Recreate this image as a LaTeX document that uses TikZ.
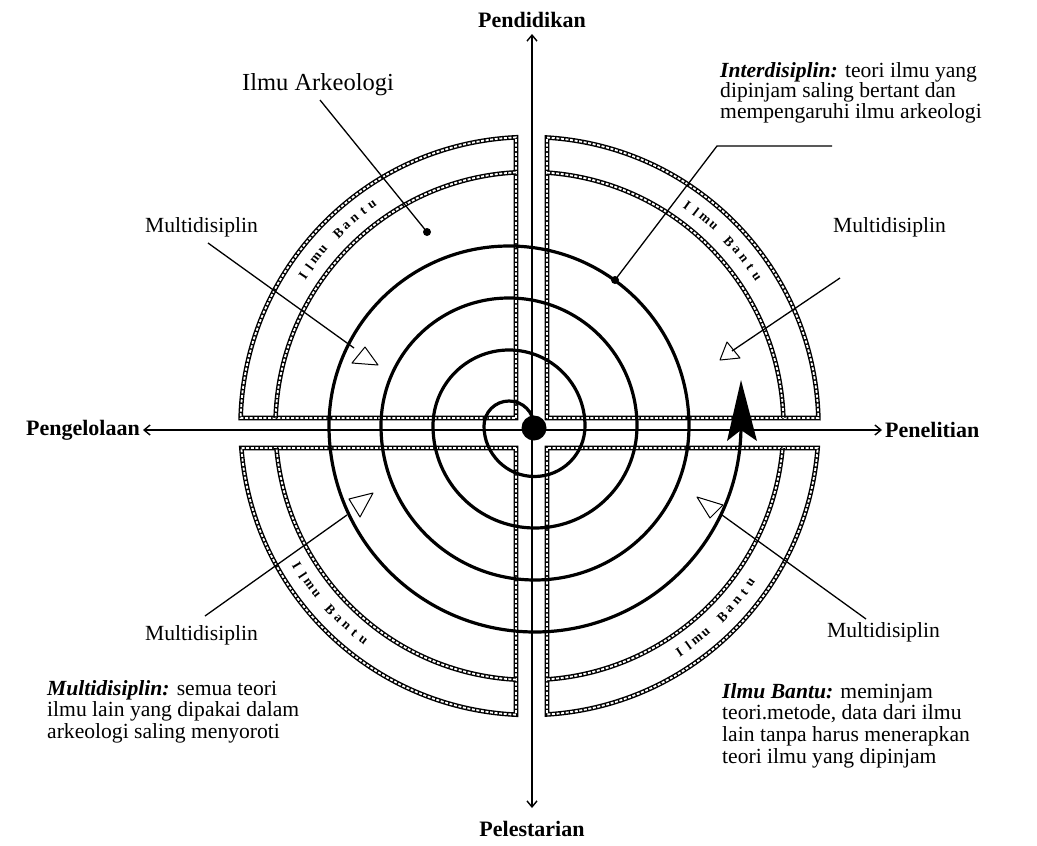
\documentclass[tikz,border=0pt]{standalone}
\usepackage{fontspec}
\setmainfont{Liberation Serif}
\usetikzlibrary{arrows.meta,calc}
\newcommand\bandpiece[1]{\draw[band] #1; \draw[bandin] #1;}
\begin{document}
\begin{tikzpicture}[x=1pt,y=1pt,
  >={Straight Barb[length=6pt,width=10pt,line width=1.4pt]},
  band/.style={line width=4.6pt,line join=miter},
  bandin/.style={line width=1.8pt,white,dash pattern=on 3pt off 1.6pt},
  spiral/.style={line width=3.2pt},
  axis/.style={line width=1.5pt},
  leader/.style={line width=1.3pt},
  lbl/.style={font=\fontsize{21.6}{22}\selectfont, inner sep=0pt},
  blk/.style={inner sep=0pt, align=left, anchor=north west},
  axl/.style={font=\bfseries\fontsize{22}{24}\selectfont, inner sep=0pt},
  bt/.style={font=\bfseries\fontsize{13.5}{13.5}\selectfont, inner sep=0pt},
  tri/.style={line width=1pt, line join=round},
  ptdot/.style={circle, fill, inner sep=0pt, minimum size=8pt}
]
\useasboundingbox (0,0) rectangle (1037,-846);
\coordinate (C) at (529.5,-426);

% ---- Ilmu Bantu ring: four quadrant pieces ----
\bandpiece{(516,-418) -- ([shift={(C)}]92.677:289) arc[start angle=92.677,end angle=178.414,radius=289] -- cycle}
\bandpiece{(547,-418) -- ([shift={(C)}]86.528:289) arc[start angle=86.528,end angle=1.586,radius=289] -- cycle}
\bandpiece{(516,-448) -- ([shift={(C)}]267.323:289) arc[start angle=267.323,end angle=184.366,radius=289] -- cycle}
\bandpiece{(547,-448) -- ([shift={(C)}]273.472:289) arc[start angle=273.472,end angle=355.634,radius=289] -- cycle}
\bandpiece{([shift={(C)}]93.047:254) arc[start angle=93.047,end angle=178.195,radius=254]}
\bandpiece{([shift={(C)}]86.05:254) arc[start angle=86.05,end angle=1.805,radius=254]}
\bandpiece{([shift={(C)}]266.953:254) arc[start angle=266.953,end angle=184.969,radius=254]}
\bandpiece{([shift={(C)}]273.95:254) arc[start angle=273.95,end angle=355.031,radius=254]}

% ---- Ilmu Bantu letters along the ring ----
\foreach \k/\c in {0/I,1/l,2/m,3/u,5/B,6/a,7/n,8/t,9/u}{
  \pgfmathsetmacro\a{146.5-2.35*\k}
  \node[bt,rotate=\a-90] (btl\k) at ([shift={(C)}]\a:271.5) {\c};
  \pgfmathsetmacro\b{54.5-2.35*\k}
  \node[bt,rotate=\b-90] (btr\k) at ([shift={(C)}]\b:271.5) {\c};
  \pgfmathsetmacro\d{211+2.35*\k}
  \node[bt,rotate=\d+90] (bbl\k) at ([shift={(C)}]\d:271.5) {\c};
  \pgfmathsetmacro\e{303.5+2.35*\k}
  \node[bt,rotate=\e+90] (bbr\k) at ([shift={(C)}]\e:271.5) {\c};
}

% ---- spiral ----
\draw[spiral] (534,-426)
  arc[start angle=0,end angle=180,radius=25]
  arc[start angle=180,end angle=360,radius=50.5]
  arc[start angle=0,end angle=180,radius=76]
  arc[start angle=180,end angle=360,radius=102]
  arc[start angle=0,end angle=180,radius=128]
  arc[start angle=180,end angle=360,radius=154]
  arc[start angle=0,end angle=180,radius=180]
  arc[start angle=180,end angle=360,radius=206] -- (741,-405);
\fill (741,-380) -- (727,-441) -- (741,-430) -- (757,-441) -- cycle;
\node[circle, fill, inner sep=0pt, minimum size=25pt] (dot) at (534,-428) {};

% ---- axes ----
\node[axl] (pend) at (532,-20) {Pendidikan};
\node[axl] (pel) at (532,-829) {Pelestarian};
\node[axl, anchor=east] (peng) at (140,-430) {Pengelolaan};
\node[axl, anchor=west] (pen) at (885,-430) {Penelitian};
\coordinate (atop) at (532,-34);
\coordinate (abot) at (532,-808);
\coordinate (alft) at (143,-430);
\coordinate (argt) at (882,-430);
\draw[axis,<->] (atop) -- (abot);
\draw[axis,<->] (alft) -- (argt);

% ---- Ilmu Arkeologi ----
\node[font=\fontsize{24.5}{26}\selectfont, inner sep=0pt] (ark) at (318,-85) {Ilmu Arkeologi};
\coordinate (ark1) at (320,-100);
\node[ptdot] (arkdot) at (427,-232) {};
\draw[leader] (ark1) -- (arkdot.center);

% ---- Interdisiplin ----
\node[blk, font=\fontsize{21.6}{19.5}\selectfont] (idesc) at (720,-62)
  {\textbf{\textit{Interdisiplin:}} teori ilmu yang\\dipinjam saling bertant dan\\mempengaruhi ilmu arkeologi};
\coordinate (id1) at (832,-146);
\coordinate (id2) at (717,-146);
\node[ptdot] (iddot) at (615,-280) {};
\draw[leader] (id1) -- (id2) -- (iddot.center);

% ---- Multidisiplin labels, leaders, triangles ----
\node[lbl] (mtl) at (201.5,-227) {Multidisiplin};
\coordinate (mtl1) at (208,-243);
\coordinate (mtl2) at (354,-348);
\draw[leader] (mtl1) -- (mtl2);
\draw[tri] (365,-347) -- (352,-363) -- (378,-365) -- cycle;

\node[lbl, anchor=west] (mtr) at (833,-227) {Multidisiplin};
\coordinate (mtr1) at (840,-278);
\coordinate (mtr2) at (732,-351);
\draw[leader] (mtr1) -- (mtr2);
\draw[tri] (727,-342) -- (720,-360) -- (740,-358) -- cycle;

\node[lbl] (mbl) at (201.5,-635) {Multidisiplin};
\coordinate (mbl1) at (205,-616);
\coordinate (mbl2) at (347,-515);
\draw[leader] (mbl1) -- (mbl2);
\draw[tri] (349,-499) -- (373,-493) -- (360,-517) -- cycle;

\node[lbl, anchor=west] (mbr) at (827,-632) {Multidisiplin};
\coordinate (mbr1) at (866,-619);
\coordinate (mbr2) at (722,-515);
\draw[leader] (mbr1) -- (mbr2);
\draw[tri] (697,-497) -- (723,-505) -- (710,-518) -- cycle;

% ---- description blocks ----
\node[blk, font=\fontsize{21.6}{21.5}\selectfont] (mdesc) at (47,-680)
  {\textbf{\textit{Multidisiplin:}} semua teori\\ilmu lain yang dipakai dalam\\arkeologi saling menyoroti};
\node[blk, font=\fontsize{21.6}{21.7}\selectfont] (bdesc) at (722,-683)
  {\textbf{\textit{Ilmu Bantu:}} meminjam\\teori.metode, data dari ilmu\\lain tanpa harus menerapkan\\teori ilmu yang dipinjam};
\end{tikzpicture}
\end{document}
